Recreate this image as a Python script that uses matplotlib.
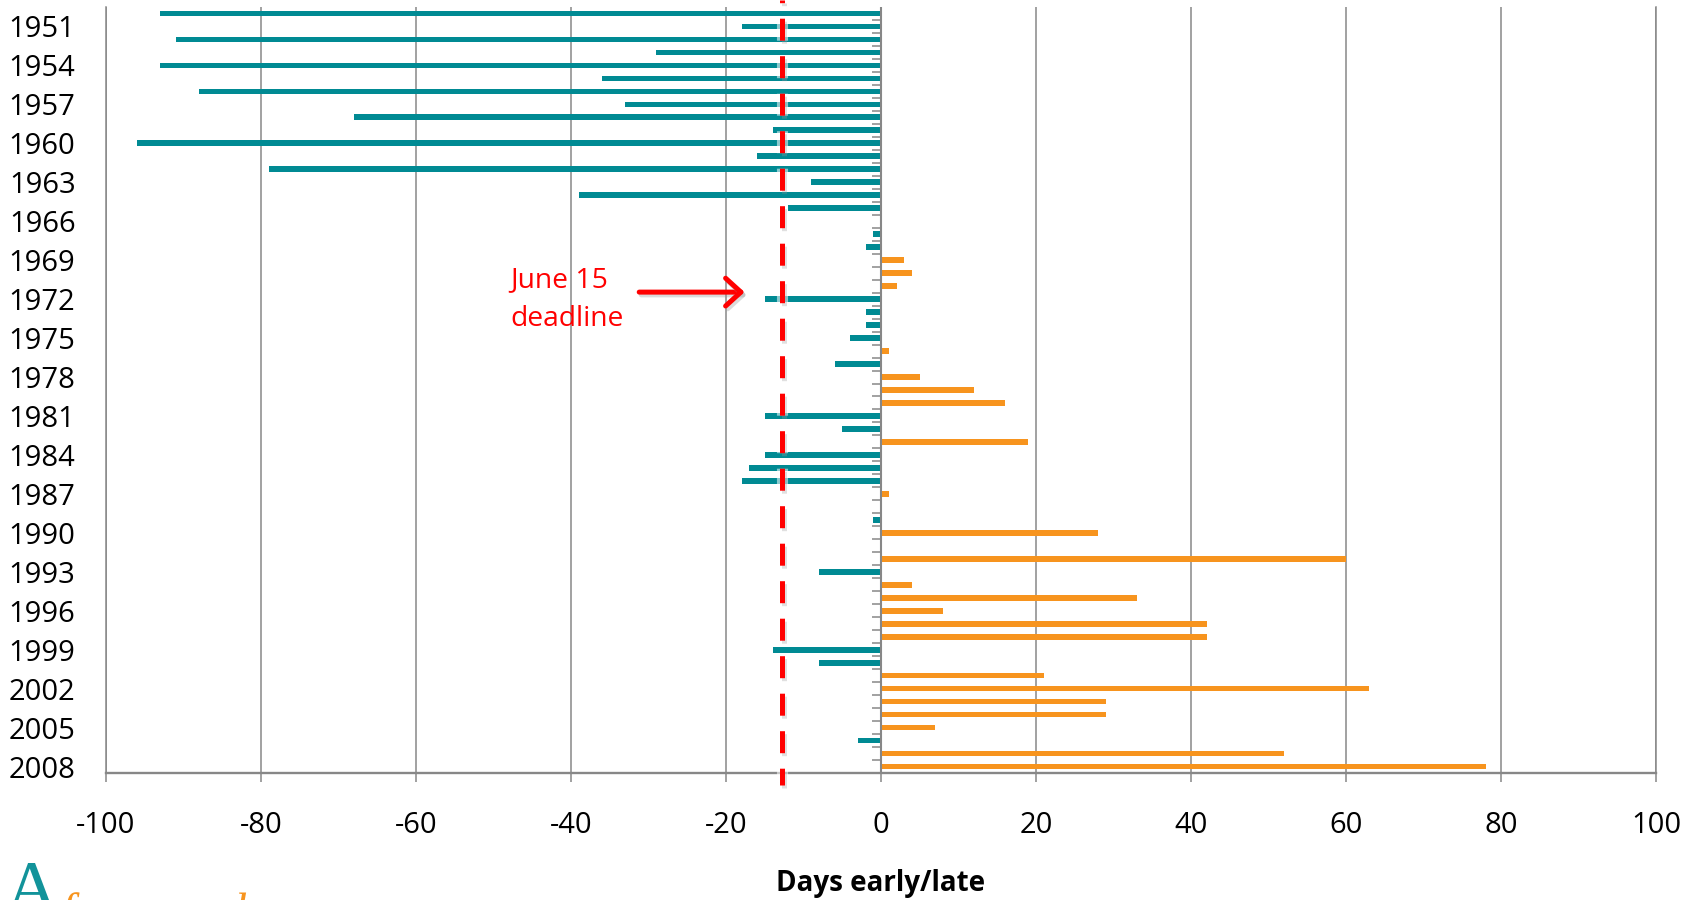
import matplotlib
matplotlib.use("Agg")
import matplotlib.pyplot as plt
import matplotlib.patheffects as pe
from matplotlib.patches import FancyArrowPatch
import matplotlib.transforms as mtransforms
import numpy as np

plt.rcParams['font.family'] = ['Open Sans', 'DejaVu Sans']

# ---- data ----
years = list(range(1950, 2009))
days = [-93, -18, -91, -29, -93, -36, -88, -33, -68, -14,
        -96, -16, -79, -9, -39, -12, 0, -1, -2, 3,
        4, 2, -15, -2, -2, -4, 1, -6, 5, 12,
        16, -15, -5, 19, -15, -17, -18, 1, 0, -1,
        28, 0, 60, -8, 4, 33, 8, 42, 42, -14,
        -8, 21, 63, 29, 29, 7, -3, 52, 78]
label_years = list(range(1951, 2009, 3))
x_ticks = list(range(-100, 101, 20))
deadline = -12.8

TEAL = '#008A93'
ORANGE = '#F7941E'
GRAY = '#878787'
RED = '#FF0000'

W, H = 1698, 900
fig = plt.figure(figsize=(W / 100, H / 100), dpi=100)
ax = fig.add_axes([106 / W, 1 - 773 / H, 1550 / W, 766 / H])

colors = [ORANGE if v > 0 else TEAL for v in days]
ax.barh(years, days, height=0.44, color=colors, zorder=3)

ax.set_xlim(-100, 100)
ax.set_ylim(years[-1] + 0.5, years[0] - 0.5)

# grid
ax.set_xticks(x_ticks)
ax.set_xticklabels([str(t) for t in x_ticks], fontsize=21)
ax.grid(axis='x', color=GRAY, lw=1.1, zorder=1)
ax.tick_params(axis='x', direction='out', length=6.5, width=1.1, color=GRAY,
               pad=21)

ax.set_yticks(label_years)
ax.set_yticklabels([str(y) for y in label_years], fontsize=21)
ax.tick_params(axis='y', length=0, pad=22)

ax.spines['top'].set_visible(False)
ax.spines['right'].set_color(GRAY)
ax.spines['right'].set_linewidth(1.1)
ax.spines['left'].set_color(GRAY)
ax.spines['left'].set_linewidth(1.1)
ax.spines['bottom'].set_color(GRAY)
ax.spines['bottom'].set_linewidth(1.7)

# zero axis with category tick marks
ax.axvline(0, color=GRAY, lw=1.5, zorder=4)
bounds = np.array(years[:-1]) + 0.5
ax.hlines(bounds, -1.16, 0, color=GRAY, lw=1.1, zorder=4)

# deadline dashed line
trans = mtransforms.blended_transform_factory(ax.transData, ax.transAxes)
lw = 3.6
ax.plot([deadline, deadline], [1 + 7 / 766, (773 - 785) / 766], transform=trans,
        color=RED, lw=lw, linestyle=(3.86, (4.4, 3.1)),
        dash_capstyle='butt', clip_on=False, zorder=6,
        path_effects=[pe.Stroke(linewidth=8, foreground='white', alpha=0.55),
                      pe.SimpleLineShadow(offset=(1.5, -2.5), shadow_color='#9a9a9a', alpha=0.3),
                      pe.Normal()])

# annotation
ax.text(-47.8, 1971.05, 'June 15', color=RED, fontsize=20.3, ha='left', va='baseline', zorder=7)
ax.text(-47.8, 1974.08, 'deadline', color=RED, fontsize=20.3, ha='left', va='baseline', zorder=7)
arrow = FancyArrowPatch((-31.2, 1971.46), (-17.6, 1971.46),
                        arrowstyle='->,head_length=0.55,head_width=0.5',
                        color=RED, lw=3.6, mutation_scale=20, zorder=7,
                        shrinkA=0, shrinkB=0,
                        path_effects=[pe.SimpleLineShadow(offset=(1.5, -2), shadow_color='#9a9a9a', alpha=0.35),
                                      pe.Normal()])
ax.add_patch(arrow)

# x label
fig.text(881 / W, 1 - 891 / H, 'Days early/late', fontsize=20, fontweight='bold',
         ha='center', va='baseline')

# partial logo at bottom-left
fig.text(4 / W, 1 - 912 / H, 'A', fontsize=54, color='#12939A', family='Liberation Serif',
         ha='left', va='baseline')
fig.text(60 / W, 1 - 925 / H, 'f', fontsize=34, color=ORANGE, family='Liberation Serif',
         style='italic', ha='left', va='baseline')
fig.text(233 / W, 1 - 925 / H, 'l', fontsize=34, color=ORANGE, family='Liberation Serif',
         style='italic', ha='left', va='baseline')

fig.savefig('out.png', dpi=100)
